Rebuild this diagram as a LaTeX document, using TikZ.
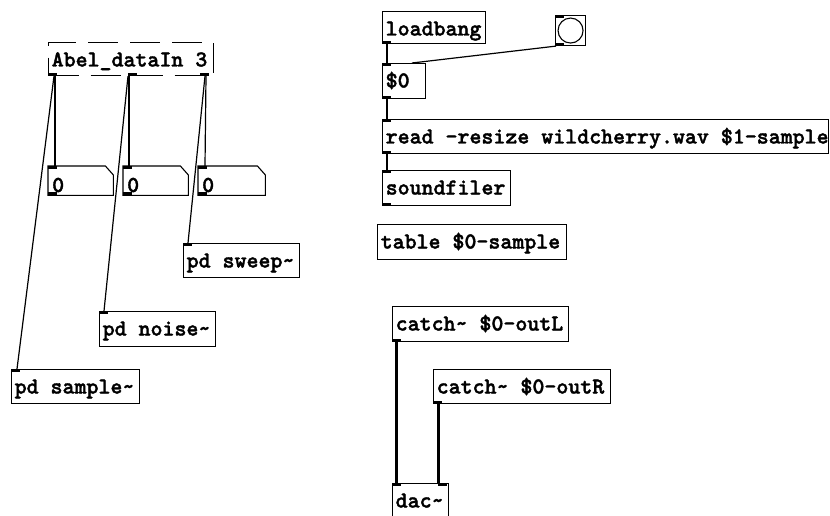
\documentclass[tikz,border=0pt]{standalone}
\usepackage{fontspec}
\newfontfamily\pdfont{lmmonolt10-bold.otf}[FakeBold=1.6]
\usetikzlibrary{calc}
\begin{document}
\begin{tikzpicture}[x=1pt,y=-1pt,
  box/.style={draw, line width=1.1pt, inner sep=0, anchor=north west},
  dbox/.style={box, dash pattern=on 30pt off 12pt},
  lbl/.style={anchor=base west, inner sep=0, font=\pdfont\fontsize{22.8}{24}\selectfont, text=black},
  conn/.style={line width=1.2pt},
  sig/.style={line width=3pt},
  numb/.style={line width=1.1pt}]
\useasboundingbox (0,0) rectangle (830,516);
\fill[white] (0,0) rectangle (830,516);

\newcommand\pdbox[7][box]{%
  \node[#1, minimum width=#5, minimum height=#6] (#2) at (#3,#4) {};
  \node[lbl] (#2-t) at ($(#2.north west)+(3.5,24.5)$) {#7};}
\newcommand\pdnum[4]{%
  \node[inner sep=0, anchor=north west, minimum width=#4, minimum height=29] (#1) at (#2,#3) {};
  \draw[numb] (#1.north west) -- ($(#1.north east)+(-8,0)$) -- ($(#1.north east)+(0,9)$) -- (#1.south east) -- (#1.south west) -- cycle;
  \node[lbl] (#1-t) at ($(#1.north west)+(4,26)$) {0};}
\newcommand\inl[2][0]{\fill ($(#2.north west)+(#1,0)$) rectangle ++(9,3);}
\newcommand\outl[2][0]{\fill ($(#2.south west)+(#1,0)$) rectangle ++(9,-3);}

% left part
\pdbox[dbox]{abel}{48}{42}{165}{33}{Abel\_dataIn 3}
\outl{abel}\outl[80]{abel}\outl[152]{abel}
\pdnum{nb1}{48}{166}{65}
\pdnum{nb2}{123}{166}{65}
\pdnum{nb3}{198}{166}{67}
\inl{nb1}\outl{nb1}\inl{nb2}\outl{nb2}\inl{nb3}\outl{nb3}
\pdbox{sweep}{183}{243}{116}{34}{pd sweep\textasciitilde}
\pdbox{noise}{99}{311}{116}{35}{pd noise\textasciitilde}
\pdbox{sample}{11}{369}{128}{34}{pd sample\textasciitilde}
\inl{sweep}\inl{noise}\inl{sample}

\draw[conn] ($(abel.south west)+(7,0)$) -- ($(nb1.north west)+(7,0)$);
\draw[conn] ($(abel.south west)+(6,0)$) -- ($(sample.north west)+(6,0)$);
\draw[conn] ($(abel.south west)+(81,0)$) -- ($(nb2.north west)+(6,0)$);
\draw[conn] ($(abel.south west)+(80,0)$) -- ($(noise.north west)+(5,0)$);
\draw[conn] ($(abel.south west)+(158,0)$) -- ($(nb3.north west)+(7,0)$);
\draw[conn] ($(abel.south west)+(157,0)$) -- ($(sweep.north west)+(5,0)$);

% right part
\pdbox{loadbang}{382}{11}{103}{32}{loadbang}
\node[box, minimum width=30, minimum height=30] (bng) at (555,15) {};
\draw[line width=1.1pt] (bng.center) circle (12.5);
\pdbox{zero}{382}{63}{43}{35}{\$0}
\pdbox{read}{382}{119}{446}{34}{read -resize wildcherry.wav \$1-sample}
\pdbox{sfiler}{382}{170}{128}{35}{soundfiler}
\pdbox{table}{377}{224}{189}{35}{table \$0-sample}
\outl{loadbang}\inl{bng}\outl{bng}\inl{zero}\outl{zero}\inl{read}\outl{read}\inl{sfiler}\outl{sfiler}

\draw[conn] ($(loadbang.south west)+(5,0)$) -- ($(zero.north west)+(5,0)$);
\draw[conn] ($(bng.south west)+(1,0)$) -- ($(zero.north west)+(30,0)$);
\draw[conn] ($(zero.south west)+(5,0)$) -- ($(read.north west)+(5,0)$);
\draw[conn] ($(read.south west)+(5,0)$) -- ($(sfiler.north west)+(5,0)$);

\pdbox{outL}{392}{306}{176}{35}{catch\textasciitilde{} \$0-outL}
\pdbox{outR}{433}{369}{177}{34}{catch\textasciitilde{} \$0-outR}
\pdbox{dac}{392}{483}{56}{35}{dac\textasciitilde}
\outl{outL}\outl{outR}\inl{dac}\inl[46]{dac}

\draw[sig] ($(outL.south west)+(4.5,0)$) -- ($(dac.north west)+(4.5,0)$);
\draw[sig] ($(outR.south west)+(5,0)$) -- ($(dac.north west)+(46,0)$);
\end{tikzpicture}
\end{document}
